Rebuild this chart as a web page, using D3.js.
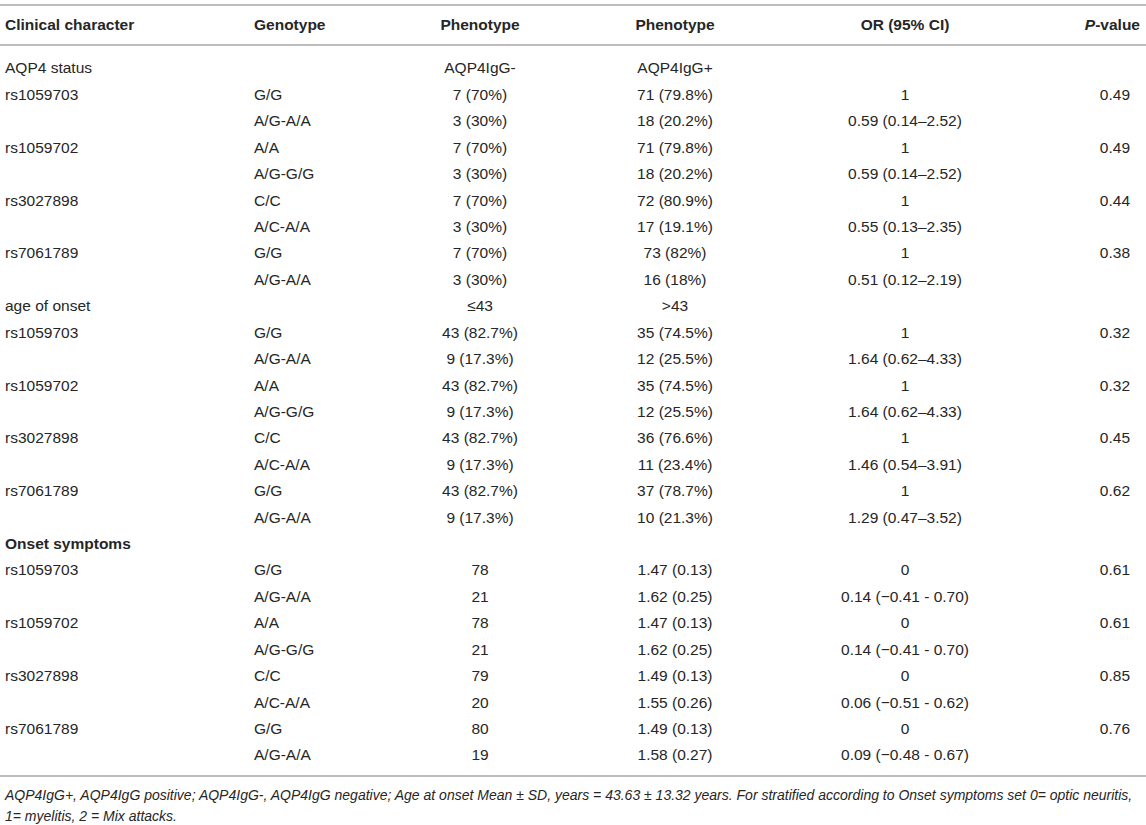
<!DOCTYPE html>
<html><head><meta charset="utf-8">
<script src="https://cdn.jsdelivr.net/npm/d3@7"></script>
<style>
body{margin:0;background:#fff;}
svg text{font-family:"Liberation Sans",Arial,Helvetica,sans-serif;}
</style></head>
<body><svg id="c" width="1146" height="825"></svg>
<script>
// ---- data ----
const headers = ["Clinical character","Genotype","Phenotype","Phenotype","OR (95% CI)","P-value"];
const sections = ["AQP4 status","age of onset","Onset symptoms"];
const sectionGroups = [["AQP4IgG-","AQP4IgG+"],["\u226443",">43"],["",""]];
const snps = ["rs1059703","rs1059702","rs3027898","rs7061789"];
const genotypes = [["G/G","A/G-A/A"],["A/A","A/G-G/G"],["C/C","A/C-A/A"],["G/G","A/G-A/A"]];
const pheno1 = [
  ["7 (70%)","3 (30%)","7 (70%)","3 (30%)","7 (70%)","3 (30%)","7 (70%)","3 (30%)"],
  ["43 (82.7%)","9 (17.3%)","43 (82.7%)","9 (17.3%)","43 (82.7%)","9 (17.3%)","43 (82.7%)","9 (17.3%)"],
  ["78","21","78","21","79","20","80","19"]
];
const pheno2 = [
  ["71 (79.8%)","18 (20.2%)","71 (79.8%)","18 (20.2%)","72 (80.9%)","17 (19.1%)","73 (82%)","16 (18%)"],
  ["35 (74.5%)","12 (25.5%)","35 (74.5%)","12 (25.5%)","36 (76.6%)","11 (23.4%)","37 (78.7%)","10 (21.3%)"],
  ["1.47 (0.13)","1.62 (0.25)","1.47 (0.13)","1.62 (0.25)","1.49 (0.13)","1.55 (0.26)","1.49 (0.13)","1.58 (0.27)"]
];
const orCI = [
  ["1","0.59 (0.14\u20132.52)","1","0.59 (0.14\u20132.52)","1","0.55 (0.13\u20132.35)","1","0.51 (0.12\u20132.19)"],
  ["1","1.64 (0.62\u20134.33)","1","1.64 (0.62\u20134.33)","1","1.46 (0.54\u20133.91)","1","1.29 (0.47\u20133.52)"],
  ["0","0.14 (\u22120.41 - 0.70)","0","0.14 (\u22120.41 - 0.70)","0","0.06 (\u22120.51 - 0.62)","0","0.09 (\u22120.48 - 0.67)"]
];
const pvals = [
  ["0.49","0.49","0.44","0.38"],
  ["0.32","0.32","0.45","0.62"],
  ["0.61","0.61","0.85","0.76"]
];
const footnotes = [
  "AQP4IgG+, AQP4IgG positive; AQP4IgG-, AQP4IgG negative; Age at onset Mean \u00b1 SD, years = 43.63 \u00b1 13.32 years. For stratified according to Onset symptoms set 0= optic neuritis,",
  "1= myelitis, 2 = Mix attacks."
];

// ---- build rows ----
const rows = [];
sections.forEach((s,si)=>{
  rows.push({cells:[s,"",sectionGroups[si][0],sectionGroups[si][1],"",""],bold:si===2});
  snps.forEach((snp,k)=>{
    for(let j=0;j<2;j++){
      const idx=k*2+j;
      rows.push({cells:[j===0?snp:"",genotypes[k][j],pheno1[si][idx],pheno2[si][idx],orCI[si][idx],j===0?pvals[si][k]:""],bold:false});
    }
  });
});

// ---- layout ----
const W=1146;
const svg=d3.select("#c");
const fs=15.5;
const y=d3.scalePoint().domain(d3.range(rows.length)).range([68,755]);
const colX=[5,254,480,675,905,1130];
const hdrX=[5,254,480,675,905,1140];
const colAnchor=["start","start","middle","middle","middle","end"];
const lineColor="#bdbdbd";
const textColor="#262626";

[5,45,776].forEach(ly=>{
  svg.append("line").attr("x1",0).attr("x2",W).attr("y1",ly).attr("y2",ly)
    .attr("stroke",lineColor).attr("stroke-width",2);
});

// header
const hdr=svg.append("g");
headers.forEach((h,i)=>{
  const t=hdr.append("text").attr("x",hdrX[i]).attr("y",25).attr("dy","0.35em")
    .attr("text-anchor",colAnchor[i]).attr("font-size",fs).attr("font-weight","bold").attr("fill",textColor);
  if(i===5){
    t.append("tspan").attr("font-style","italic").text("P");
    t.append("tspan").text("-value");
  } else t.text(h);
});

// body
const g=svg.append("g");
rows.forEach((r,ri)=>{
  r.cells.forEach((c,ci)=>{
    if(!c) return;
    g.append("text").attr("x",colX[ci]).attr("y",y(ri)).attr("dy","0.35em")
      .attr("text-anchor",colAnchor[ci]).attr("font-size",fs)
      .attr("font-weight",r.bold?"bold":"normal").attr("fill",textColor).text(c);
  });
});

// footnotes
footnotes.forEach((f,i)=>{
  svg.append("text").attr("x",5).attr("y",795+i*21).attr("dy","0.35em")
    .attr("font-size",14).attr("font-style","italic").attr("fill",textColor).text(f);
});
</script></body></html>
